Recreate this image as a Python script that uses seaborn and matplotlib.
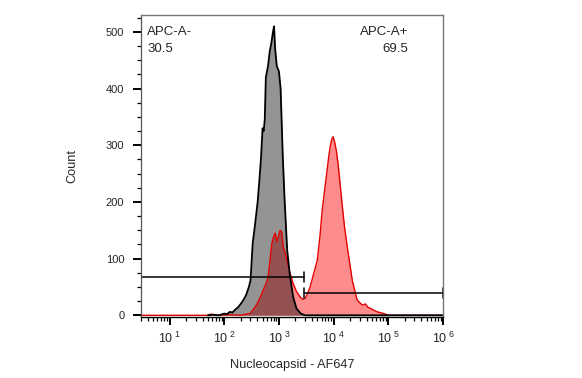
import numpy as np
import matplotlib
matplotlib.use("Agg")
import matplotlib.pyplot as plt
import seaborn as sns

# histogram bins (log10 of fluorescence) and counts
neg_log = [1.70, 1.80, 1.90, 2.00, 2.05, 2.10, 2.15, 2.20, 2.25, 2.30, 2.35, 2.40,
           2.45, 2.48, 2.50, 2.52, 2.55, 2.58, 2.61, 2.64, 2.67, 2.70, 2.72, 2.74,
           2.76, 2.78, 2.80, 2.83, 2.86, 2.89, 2.91, 2.93, 2.96, 3.00, 3.03, 3.07,
           3.10, 3.15, 3.20, 3.26, 3.32, 3.40, 3.48, 6.00]
neg_count = [0, 1, 0, 3, 2, 6, 5, 10, 14, 20, 27, 36,
             50, 62, 95, 128, 150, 175, 200, 236, 275, 330, 325, 345,
             420, 430, 440, 465, 480, 500, 510, 470, 440, 430, 400, 280,
             210, 115, 70, 32, 12, 3, 0, 0]

pos_log = [0.47, 1.70, 1.75, 1.90, 2.10, 2.30, 2.40, 2.47, 2.53, 2.60, 2.66, 2.71,
           2.76, 2.80, 2.84, 2.87, 2.90, 2.93, 2.96, 2.99, 3.02, 3.05, 3.08, 3.11,
           3.15, 3.20, 3.26, 3.32, 3.39, 3.44, 3.48, 3.52, 3.57, 3.63, 3.70, 3.75,
           3.79, 3.84, 3.88, 3.91, 3.94, 3.97, 3.99, 4.02, 4.05, 4.08, 4.12, 4.16,
           4.20, 4.25, 4.30, 4.34, 4.39, 4.43, 4.48, 4.53, 4.58, 4.63, 4.68, 4.73,
           4.80, 4.88, 4.95, 5.00, 6.00]
pos_count = [0, 0, 2, 0, 1, 0, 2, 3, 10, 20, 32, 44,
             55, 67, 100, 127, 138, 145, 130, 140, 150, 147, 120, 110,
             97, 75, 56, 42, 32, 28, 30, 38, 50, 72, 97, 140,
             185, 225, 256, 280, 300, 312, 315, 305, 290, 268, 230, 191,
             155, 120, 88, 62, 42, 27, 22, 18, 20, 14, 12, 9,
             6, 4, 2, 0, 0]

# gates: (x start, x end, count level)
gate_neg = [3, 2900, 67]
gate_pos = [2900, 1e6, 39]
gate_labels = ["APC-A-", "APC-A+"]
gate_values = ["30.5", "69.5"]

decades = [1, 2, 3, 4, 5, 6]

sns.set_style("ticks")
plt.rcParams["font.family"] = ["Liberation Sans", "DejaVu Sans"]
plt.rcParams["mathtext.fontset"] = "custom"
plt.rcParams["mathtext.rm"] = "Liberation Sans"
plt.rcParams["mathtext.it"] = "Liberation Sans"

fig = plt.figure(figsize=(5.82, 3.78), dpi=100)
ax = fig.add_axes([0.2423, 0.1614, 0.7612 - 0.2423, 0.9603 - 0.1614])

xn = 10 ** np.array(neg_log)
xp = 10 ** np.array(pos_log)

# red (positive) histogram first, grey drawn translucent on top
ax.fill_between(xp, pos_count, color="#ff0000", alpha=0.45, lw=0)
sns.lineplot(x=xp, y=pos_count, color="#e00000", lw=1.0, ax=ax, sort=False)
ax.fill_between(xn, neg_count, color="black", alpha=0.42, lw=0)
sns.lineplot(x=xn, y=neg_count, color="black", lw=1.3, ax=ax, sort=False)

# gates
for g, h in [(gate_neg, 9), (gate_pos, 9)]:
    ax.plot([g[0], g[1]], [g[2], g[2]], color="black", lw=1.1)
    ax.plot([g[1], g[1]], [g[2] - h, g[2] + h], color="black", lw=1.1)
ax.plot([gate_pos[0], gate_pos[0]], [gate_pos[2] - 9, gate_pos[2] + 9], color="black", lw=1.1)

ax.text(0.02, 0.965, gate_labels[0] + "\n" + gate_values[0], transform=ax.transAxes,
        ha="left", va="top", fontsize=9.5, linespacing=1.55)
ax.text(0.885, 0.965, gate_labels[1] + "\n" + gate_values[1], transform=ax.transAxes,
        ha="right", va="top", fontsize=9.5, linespacing=1.55, multialignment="right")

ax.set_xscale("log")
ax.set_xlim(3, 1e6)
ax.set_ylim(-3, 530)

ax.set_xticks([10 ** d for d in decades])
ax.set_xticklabels([r"$10^{\ %d}$" % d for d in decades])
ax.xaxis.set_minor_locator(matplotlib.ticker.LogLocator(base=10, subs=np.arange(2, 10)))
ax.xaxis.set_minor_formatter(matplotlib.ticker.NullFormatter())
ax.set_yticks([0, 100, 200, 300, 400, 500])
ax.yaxis.set_minor_locator(matplotlib.ticker.MultipleLocator(25))

ax.tick_params(axis="both", which="major", length=6, width=1.4, color="black",
               labelsize=8, direction="out", pad=6)
ax.tick_params(axis="both", which="minor", length=3, width=0.9, color="black", direction="out")
ax.tick_params(axis="x", which="major", pad=4, labelsize=9)

for s in ["top", "right"]:
    ax.spines[s].set_color("#777777")
    ax.spines[s].set_linewidth(1.0)
ax.spines["left"].set_color("#555555")
ax.spines["left"].set_linewidth(0.9)
ax.spines["bottom"].set_color("black")
ax.spines["bottom"].set_linewidth(1.0)

ax.set_xlabel("Nucleocapsid - AF647", fontsize=9.2, labelpad=9)
ax.set_ylabel("Count", fontsize=9.2, labelpad=20)

fig.savefig("out.png", dpi=100)
